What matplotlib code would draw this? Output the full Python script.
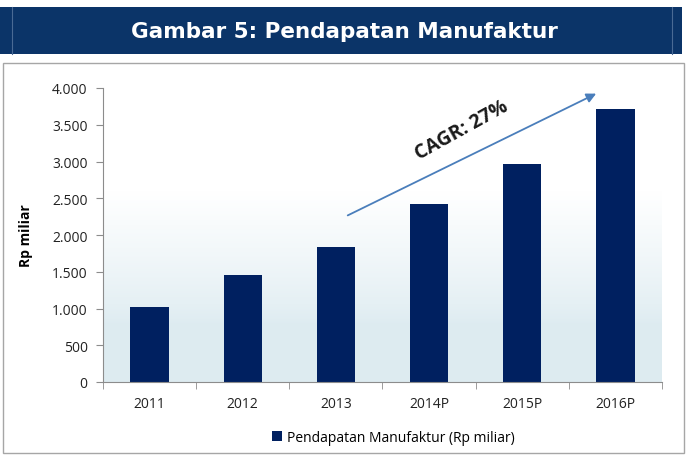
import numpy as np
import matplotlib
matplotlib.use("Agg")
import matplotlib.pyplot as plt
from matplotlib.patches import Rectangle

years = ["2011", "2012", "2013", "2014P", "2015P", "2016P"]
revenue = [1020, 1450, 1840, 2420, 2960, 3720]
yticks = [0, 500, 1000, 1500, 2000, 2500, 3000, 3500, 4000]
ytick_labels = ["0", "500", "1.000", "1.500", "2.000", "2.500", "3.000", "3.500", "4.000"]

navy = "#002060"
plt.rcParams['font.family'] = ['Open Sans', 'DejaVu Sans']

fig = plt.figure(figsize=(6.88, 4.56), dpi=100)

# title banner
fig.patches.append(Rectangle((0.0, 1 - 55/456), 682/688, 47/456, transform=fig.transFigure,
                             facecolor="#0b3468", edgecolor="none", zorder=-5))
for xp in (12, 672):
    fig.lines.append(plt.Line2D([xp/688, xp/688], [1 - 55/456, 1 - 8/456], transform=fig.transFigure,
                                color="#4a6a94", lw=0.8, zorder=-4))
fig.text(0.5, 1 - 32/456, "Gambar 5: Pendapatan Manufaktur", color="white", fontsize=15.5,
         fontweight="bold", family="DejaVu Sans", ha="center", va="center")

# chart frame
fig.patches.append(Rectangle((3/688, 2/456), 681/688, 390/456, transform=fig.transFigure,
                             facecolor="white", edgecolor="#a6a6a6", lw=1.0, zorder=-5))

ax = fig.add_axes([103/688, 73/456, 559/688, 294/456])
ax.set_zorder(2)
ax.set_facecolor("none")

# soft gradient background
grad = np.linspace(0, 1, 256).reshape(-1, 1)
grad = np.clip((grad - 0.2) / 0.45, 0, 1) ** 0.8
top = np.array([1.0, 1.0, 1.0])
bottom = np.array([0.87, 0.925, 0.945])
img = bottom + (top - bottom) * grad[..., None]
ax.imshow(img, extent=[0, 1, 0, 1], transform=ax.transAxes, aspect="auto", origin="lower", zorder=0)

x = np.arange(len(years))
ax.bar(x, revenue, width=0.41, color=navy, zorder=2, label="Pendapatan Manufaktur (Rp miliar)")
ax.set_xlim(-0.5, len(years) - 0.5)
ax.set_ylim(0, 4000)
ax.set_yticks(yticks)
ax.set_yticklabels(ytick_labels)
ax.set_xticks(x)
ax.set_xticklabels(years)
ax.set_xticks(np.arange(-0.5, len(years)), minor=True)
ax.tick_params(axis="x", which="major", length=0, pad=10, labelsize=10, colors="#222222")
ax.tick_params(axis="x", which="minor", length=5, color="#8c8c8c")
ax.tick_params(axis="y", length=5, color="#8c8c8c", labelsize=10, labelcolor="#222222", pad=6)
for s in ("top", "right"):
    ax.spines[s].set_visible(False)
for s in ("left", "bottom"):
    ax.spines[s].set_color("#8c8c8c")
ax.set_ylabel("Rp miliar", fontsize=10, fontweight="bold", labelpad=14)

# CAGR arrow
ax.annotate("", xy=(4.82, 3940), xytext=(2.1, 2250),
            arrowprops=dict(arrowstyle="-|>", color="#4a7ebb", lw=1.3, mutation_scale=14), zorder=3)
ax.text(3.35, 3430, "CAGR: 27%", rotation=29, fontsize=14, fontweight="bold",
        ha="center", va="center", color="#1a1a1a", zorder=3)

ax.legend(loc="upper center", bbox_to_anchor=(0.52, -0.12), frameon=False, fontsize=10,
          handlelength=0.7, handleheight=0.7, handletextpad=0.4)

fig.savefig("out.png", dpi=100)
